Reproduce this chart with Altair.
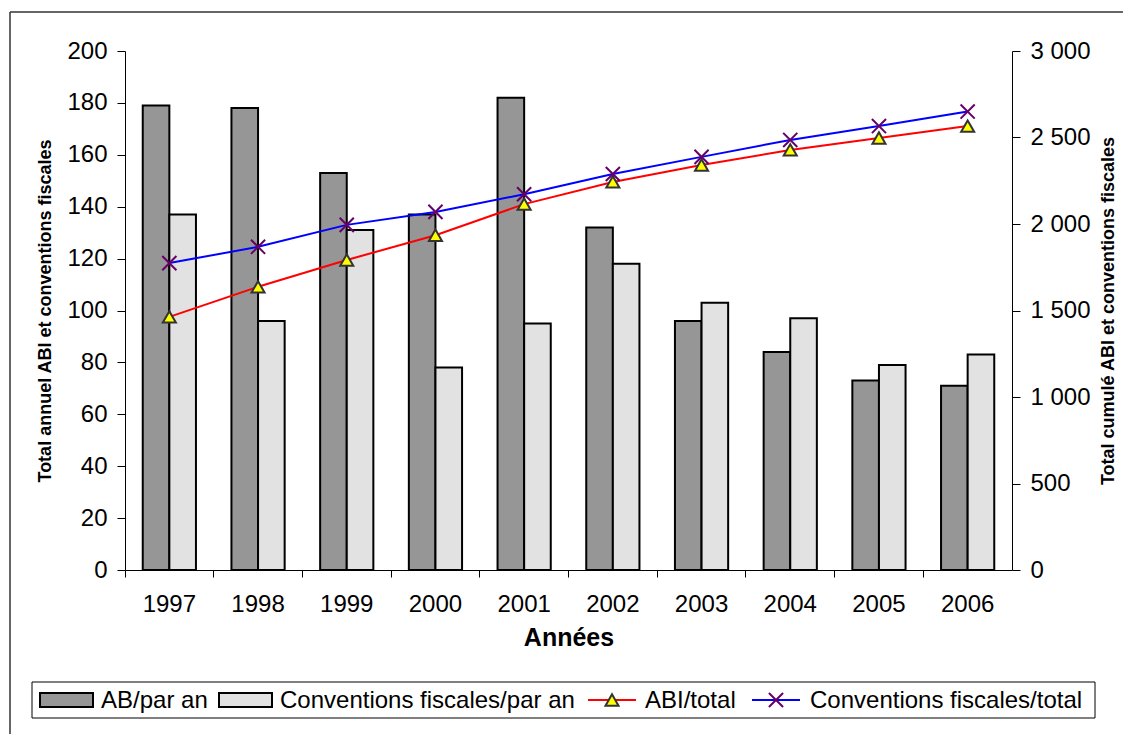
import altair as alt
import pandas as pd

years = ["1997", "1998", "1999", "2000", "2001", "2002", "2003", "2004", "2005", "2006"]
bar_names = ["AB/par an", "Conventions fiscales/par an"]
line_names = ["ABI/total", "Conventions fiscales/total"]
ab_par_an = [179, 178, 153, 137, 182, 132, 96, 84, 73, 71]
conv_par_an = [137, 96, 131, 78, 95, 118, 103, 97, 79, 83]
abi_total = [1463, 1637, 1792, 1935, 2115, 2243, 2341, 2428, 2497, 2566]
conv_total = [1774, 1868, 1995, 2070, 2172, 2289, 2388, 2486, 2566, 2650]
left_ticks = list(range(0, 201, 20))
right_ticks = list(range(0, 3001, 500))

FONT = "Liberation Sans"
FS = 24

bars_df = pd.DataFrame({
    "year": years * 2,
    "series": [bar_names[0]] * len(years) + [bar_names[1]] * len(years),
    "value": ab_par_an + conv_par_an,
})
lines_df = pd.DataFrame({
    "year": years * 2,
    "series": [line_names[0]] * len(years) + [line_names[1]] * len(years),
    "value": abi_total + conv_total,
})
dummy = pd.DataFrame({"k": [0]})

x_enc = alt.X(
    "year:N",
    sort=years,
    scale=alt.Scale(paddingInner=0, paddingOuter=0),
    axis=alt.Axis(
        title="Années", bandPosition=0, labelAngle=0,
        tickSize=7, labelPadding=15, labelFontSize=FS, labelFont=FONT,
        titleFontSize=25, titleFont=FONT, titleFontWeight="bold",
        titleY=67, titleBaseline="middle", domainColor="black", tickColor="black",
        labelColor="black", titleColor="black", grid=False,
    ),
)

bars = alt.Chart(bars_df).mark_bar(stroke="black", strokeWidth=2).encode(
    x=x_enc,
    xOffset=alt.XOffset("series:N", sort=bar_names,
                        scale=alt.Scale(domain=bar_names, paddingOuter=0.667, paddingInner=0)),
    y=alt.Y("value:Q", scale=alt.Scale(domain=[0, 200], nice=False),
            axis=alt.Axis(orient="left", values=left_ticks, title="Total annuel ABI et conventions fiscales",
                          tickSize=8, labelPadding=10, labelFontSize=FS, labelFont=FONT,
                          titleFontSize=18, titleFont=FONT, titleFontWeight="bold",
                          titleAngle=270, titleX=-80, titleY=259.5, titleAlign="center",
                          titleBaseline="middle", domainColor="black", tickColor="black",
                          labelColor="black", titleColor="black", grid=False)),
    fill=alt.Fill("series:N", scale=alt.Scale(domain=bar_names, range=["#969696", "#e2e2e2"]), legend=None),
)

y_right = alt.Y("value:Q", scale=alt.Scale(domain=[0, 3000], nice=False),
                axis=alt.Axis(orient="right", values=right_ticks, title="Total cumulé ABI et conventions fiscales",
                              labelExpr="replace(format(datum.value, ','), ',', ' ')",
                              tickSize=8, labelPadding=10, labelFontSize=FS, labelFont=FONT,
                              titleFontSize=18, titleFont=FONT, titleFontWeight="bold",
                              titleAngle=270, titleX=96, titleY=259.5, titleAlign="center",
                              titleBaseline="middle", domainColor="black", tickColor="black",
                              labelColor="black", titleColor="black", grid=False))

lines = alt.Chart(lines_df).mark_line(strokeWidth=2).encode(
    x=x_enc,
    y=y_right,
    color=alt.Color("series:N", scale=alt.Scale(domain=line_names, range=["#ff0000", "#0000ff"]), legend=None),
)
tri = alt.Chart(lines_df).transform_filter(
    alt.datum.series == line_names[0]
).mark_point(shape="triangle-up", filled=True, fill="#ffff00", stroke="#333333",
             strokeWidth=2, size=170, opacity=1).encode(x=x_enc, y=y_right)
XPATH = "M-1,-1L1,1M-1,1L1,-1"
crs = alt.Chart(lines_df).transform_filter(
    alt.datum.series == line_names[1]
).mark_point(shape=XPATH, filled=False, stroke="#660066", strokeWidth=2, size=200, opacity=1).encode(
    x=x_enc, y=y_right)

right = alt.layer(lines, tri, crs)

# decorations: outer frame and legend
frame_left = alt.Chart(dummy).mark_rule(color="#333333", strokeWidth=1.5).encode(
    x=alt.value(-115), y=alt.value(-39), y2=alt.value(700))
frame_top = alt.Chart(dummy).mark_rule(color="#333333", strokeWidth=1.5).encode(
    x=alt.value(-115), x2=alt.value(1100), y=alt.value(-39))

LY = 649
legend_box = alt.Chart(dummy).mark_rect(fill="white", stroke="black", strokeWidth=1).encode(
    x=alt.value(-93), x2=alt.value(970), y=alt.value(631), y2=alt.value(667))
sym1 = alt.Chart(dummy).mark_rect(fill="#969696", stroke="black", strokeWidth=2).encode(
    x=alt.value(-85), x2=alt.value(-32), y=alt.value(642), y2=alt.value(656))
sym2 = alt.Chart(dummy).mark_rect(fill="#e2e2e2", stroke="black", strokeWidth=2).encode(
    x=alt.value(94), x2=alt.value(147), y=alt.value(642), y2=alt.value(656))
line3 = alt.Chart(dummy).mark_rule(color="#ff0000", strokeWidth=2).encode(
    x=alt.value(463), x2=alt.value(511), y=alt.value(LY))
pt3 = alt.Chart(dummy).mark_point(shape="triangle-up", filled=True, fill="#ffff00", stroke="#333333",
                                   strokeWidth=2, size=170, opacity=1).encode(x=alt.value(487), y=alt.value(LY))
line4 = alt.Chart(dummy).mark_rule(color="#0000ff", strokeWidth=2).encode(
    x=alt.value(627), x2=alt.value(675), y=alt.value(LY))
pt4 = alt.Chart(dummy).mark_point(shape=XPATH, filled=False, stroke="#660066", strokeWidth=2,
                                   size=200, opacity=1).encode(x=alt.value(651), y=alt.value(LY))


def ltext(xp, s):
    return alt.Chart(dummy).mark_text(align="left", baseline="middle", fontSize=FS, font=FONT,
                                       color="black").encode(x=alt.value(xp), y=alt.value(LY + 1),
                                                             text=alt.value(s))


texts = [ltext(-24, bar_names[0]), ltext(155, bar_names[1]), ltext(520, line_names[0]), ltext(685, line_names[1])]

chart = alt.layer(
    bars, right, frame_left, frame_top, legend_box, sym1, sym2, line3, pt3, line4, pt4, *texts
).resolve_scale(
    y="independent", color="independent", fill="independent"
).properties(
    width=887, height=519,
    padding={"left": 117, "top": 43, "right": 111, "bottom": 164},
    autosize=alt.AutoSizeParams(type="none"),
    background="white",
).configure_view(stroke=None)

chart.save("out.html", embed_options={"renderer": "svg", "actions": False})
